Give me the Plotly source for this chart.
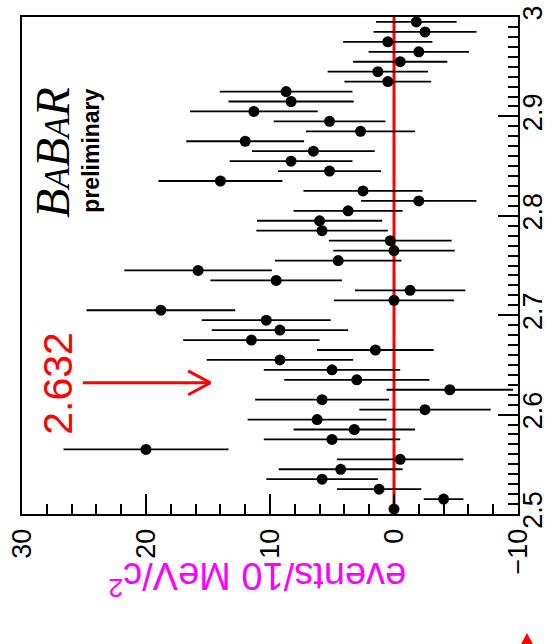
import plotly.graph_objects as go

# bin centres of the invariant mass (GeV/c^2), 10 MeV bins
mass = [2.505, 2.515, 2.525, 2.535, 2.545, 2.555, 2.565, 2.575, 2.585, 2.595,
        2.605, 2.615, 2.625, 2.635, 2.645, 2.655, 2.665, 2.675, 2.685, 2.695,
        2.705, 2.715, 2.725, 2.735, 2.745, 2.755, 2.765, 2.775, 2.785, 2.795,
        2.805, 2.815, 2.825, 2.835, 2.845, 2.855, 2.865, 2.875, 2.885, 2.895,
        2.905, 2.915, 2.925, 2.935, 2.945, 2.955, 2.965, 2.975, 2.985, 2.995]

events = [0.0, -4.0, 1.2, 5.8, 4.3, -0.5, 20.0, 5.0, 3.2, 6.2,
          -2.5, 5.8, -4.5, 3.0, 5.0, 9.2, 1.5, 11.5, 9.2, 10.3,
          18.8, 0.0, -1.3, 9.5, 15.8, 4.5, 0.0, 0.3, 5.8, 6.0,
          3.7, -2.0, 2.5, 14.0, 5.2, 8.3, 6.5, 12.0, 2.7, 5.2,
          11.3, 8.3, 8.7, 0.5, 1.3, -0.5, -2.0, 0.5, -2.5, -1.8]

errors = [0.0, 1.6, 3.4, 4.5, 5.0, 5.1, 6.65, 5.5, 4.9, 5.6,
          5.3, 5.4, 5.1, 5.85, 5.5, 5.9, 4.7, 5.5, 5.5, 5.2,
          6.0, 4.85, 4.45, 5.3, 5.95, 5.1, 4.9, 4.95, 5.3, 5.05,
          4.4, 4.65, 4.8, 5.0, 4.15, 4.95, 4.95, 4.75, 4.4, 4.5,
          5.15, 5.05, 5.35, 3.5, 4.05, 3.8, 4.05, 3.6, 4.15, 3.25]

event_ticks = [30, 20, 10, 0, -10]
mass_ticks = [2.5, 2.6, 2.7, 2.8, 2.9, 3.0]
mass_ticktext = ["2.5", "2.6", "2.7", "2.8", "2.9", "3"]

peak_mass = 2.632

fig = go.Figure()
fig.add_trace(go.Scatter(
    x=events, y=mass, mode="markers",
    marker=dict(color="black", size=11, symbol="circle"),
    error_x=dict(type="data", array=errors, visible=True,
                 color="black", thickness=1.8, width=0),
    showlegend=False, cliponaxis=False, hoverinfo="skip",
))

# zero line
fig.add_shape(type="line", xref="x", yref="paper", x0=0, x1=0, y0=0, y1=1,
              line=dict(color="#ff0000", width=3), layer="below")

# arrow pointing at 2.632
fig.add_shape(type="line", xref="x", yref="y", x0=25.1, x1=14.8,
              y0=peak_mass, y1=peak_mass, line=dict(color="#ff0000", width=3))
fig.add_shape(type="line", xref="x", yref="y", x0=14.8, x1=16.6,
              y0=peak_mass, y1=peak_mass + 0.012, line=dict(color="#ff0000", width=3))
fig.add_shape(type="line", xref="x", yref="y", x0=14.8, x1=16.6,
              y0=peak_mass, y1=peak_mass - 0.012, line=dict(color="#ff0000", width=3))

fig.add_annotation(x=27.1, y=peak_mass, xref="x", yref="y", text="2.632",
                   textangle=-90, showarrow=False,
                   font=dict(family="Liberation Sans, Arial", size=41, color="#ff0000"))

# BaBar logo
fig.add_annotation(x=27.6, y=2.864, xref="x", yref="y",
                   text="<i>B<span style='font-size:35px'>A</span>B<span style='font-size:35px'>A</span>R</i>",
                   textangle=-90, showarrow=False,
                   font=dict(family="Liberation Serif, Times New Roman", size=48, color="black"))
fig.add_annotation(x=24.4, y=2.866, xref="x", yref="y", text="<b>preliminary</b>",
                   textangle=-90, showarrow=False,
                   font=dict(family="Liberation Sans, Arial", size=23, color="black"))

# axis title (upside down)
fig.add_annotation(x=0.474, y=-0.183, xref="paper", yref="paper",
                   text="events/10 MeV/c<sup>2</sup>", textangle=180, showarrow=False,
                   font=dict(family="Liberation Sans, Arial", size=38, color="#ff00ff"))

# small red marker at bottom right
fig.add_shape(type="path", xref="paper", yref="paper",
              path="M 1.0181 -0.2394 L 1.0020 -0.2696 L 1.0343 -0.2696 Z",
              fillcolor="#ff0000", line=dict(color="#ff0000", width=0))

tickfont = dict(family="Liberation Sans, Arial", size=27, color="black")

fig.update_layout(
    width=552, height=644,
    margin=dict(l=22, r=34, t=17, b=130, autoexpand=False),
    paper_bgcolor="white", plot_bgcolor="white",
    hovermode=False,
    xaxis=dict(range=[30, -10], autorange=False, tickvals=event_ticks,
               ticks="inside", ticklen=20, tickwidth=2, tickcolor="black",
               minor=dict(dtick=2, tick0=0, ticks="inside", ticklen=10,
                          tickwidth=2, tickcolor="black"),
               showline=True, linewidth=2, linecolor="black", mirror=True,
               showgrid=False, zeroline=False, tickangle=-90, automargin=False,
               tickfont=tickfont, ticklabelstandoff=2),
    yaxis=dict(range=[2.5, 3.0], autorange=False, side="right",
               tickvals=mass_ticks, ticktext=mass_ticktext,
               ticks="inside", ticklen=20, tickwidth=2, tickcolor="black",
               minor=dict(dtick=0.01, tick0=2.5, ticks="inside", ticklen=10,
                          tickwidth=2, tickcolor="black"),
               showline=True, linewidth=2, linecolor="black", mirror=True,
               showgrid=False, zeroline=False, tickangle=-90, automargin=False,
               tickfont=tickfont, ticklabelstandoff=-10),
)

fig.write_html("out.html", config={"displayModeBar": False, "staticPlot": True},
               post_script="document.body.style.margin='0';document.body.style.overflow='hidden';")
